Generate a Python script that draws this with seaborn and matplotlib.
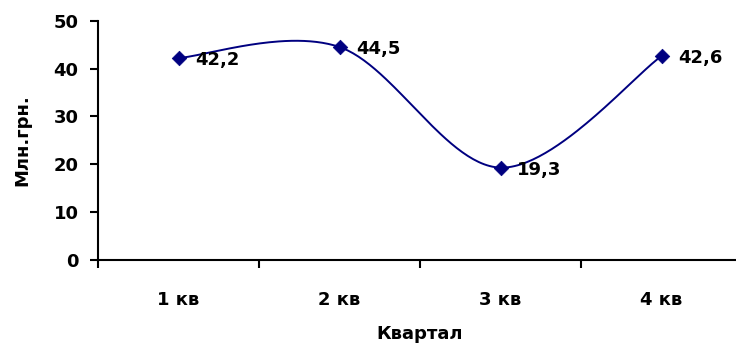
import numpy as np
import pandas as pd
import matplotlib
matplotlib.use("Agg")
import matplotlib.pyplot as plt
import seaborn as sns

quarters = ["1 кв", "2 кв", "3 кв", "4 кв"]
values = [42.2, 44.5, 19.3, 42.6]
value_labels = ["42,2", "44,5", "19,3", "42,6"]
y_ticks = [0, 10, 20, 30, 40, 50]

sns.set_theme(style="white")
plt.rcParams["font.family"] = ["DejaVu Sans"]
plt.rcParams["font.weight"] = "bold"
plt.rcParams["text.color"] = "black"
plt.rcParams["axes.labelcolor"] = "black"
plt.rcParams["xtick.color"] = "black"
plt.rcParams["ytick.color"] = "black"

NAVY = "#000080"
FS = 13

df = pd.DataFrame({"pos": np.arange(len(quarters)), "value": values})

fig = plt.figure(figsize=(7.36, 3.44), dpi=100)
ax = fig.add_axes([98 / 736, (344 - 260) / 344, 644 / 736, 239.3 / 344])


def smooth_curve(xs, ys, n=60):
    """Bezier smoothing through the points (control offsets of 1/6)."""
    pts = np.column_stack([xs, ys]).astype(float)
    m = len(pts)
    out = []
    for i in range(m - 1):
        p0 = pts[i]
        p1 = pts[i + 1]
        pm = pts[i - 1] if i > 0 else pts[i]
        pp = pts[i + 2] if i + 2 < m else pts[i + 1]
        c1 = p0 + (p1 - pm) / 6.0
        c2 = p1 - (pp - p0) / 6.0
        t = np.linspace(0, 1, n)[:, None]
        seg = ((1 - t) ** 3) * p0 + 3 * ((1 - t) ** 2) * t * c1 \
            + 3 * (1 - t) * t ** 2 * c2 + t ** 3 * p1
        out.append(seg if i == 0 else seg[1:])
    return np.vstack(out)


curve = smooth_curve(df["pos"], df["value"])
sns.lineplot(x=curve[:, 0], y=curve[:, 1], ax=ax, color=NAVY, lw=1.4,
             sort=False, estimator=None)
sns.scatterplot(data=df, x="pos", y="value", ax=ax, marker="D", s=55,
                color=NAVY, edgecolor=NAVY, linewidth=0.5, zorder=5)

for x, y, lab in zip(df["pos"], df["value"], value_labels):
    ax.annotate(lab, (x, y), xytext=(12, -1.5), textcoords="offset points",
                ha="left", va="center", fontsize=FS, fontweight="bold",
                color="black")

ax.set_xlim(-0.5, 3.5)
ax.set_ylim(0, 50)
ax.set_yticks(y_ticks)
ax.set_yticklabels([str(v) for v in y_ticks], fontsize=FS, fontweight="bold")
ax.set_xticks(np.arange(len(quarters)))
ax.set_xticklabels(quarters, fontsize=FS, fontweight="bold")
ax.set_xticks(np.arange(len(quarters) + 1) - 0.5, minor=True)

ax.tick_params(axis="x", which="major", length=0, pad=22, labelcolor="black")
ax.tick_params(axis="x", which="minor", length=6, width=1.5, color="black",
               direction="out", bottom=True)
ax.tick_params(axis="y", which="major", length=6, width=1.5, color="black",
               direction="out", left=True, pad=8, labelcolor="black")

for side in ["top", "right"]:
    ax.spines[side].set_visible(False)
for side in ["left", "bottom"]:
    ax.spines[side].set_color("black")
    ax.spines[side].set_linewidth(1.5)

ax.set_xlabel("Квартал", fontsize=FS, fontweight="bold", color="black")
ax.set_ylabel("Млн.грн.", fontsize=FS, fontweight="bold", color="black")
ax.xaxis.set_label_coords(0.5, -(334 - 260) / 239.3)
ax.xaxis.label.set_va("center")
ax.yaxis.set_label_coords((22 - 98) / 644, 0.5)
ax.yaxis.label.set_va("center")
ax.grid(False)

fig.savefig("out.png", dpi=100)
